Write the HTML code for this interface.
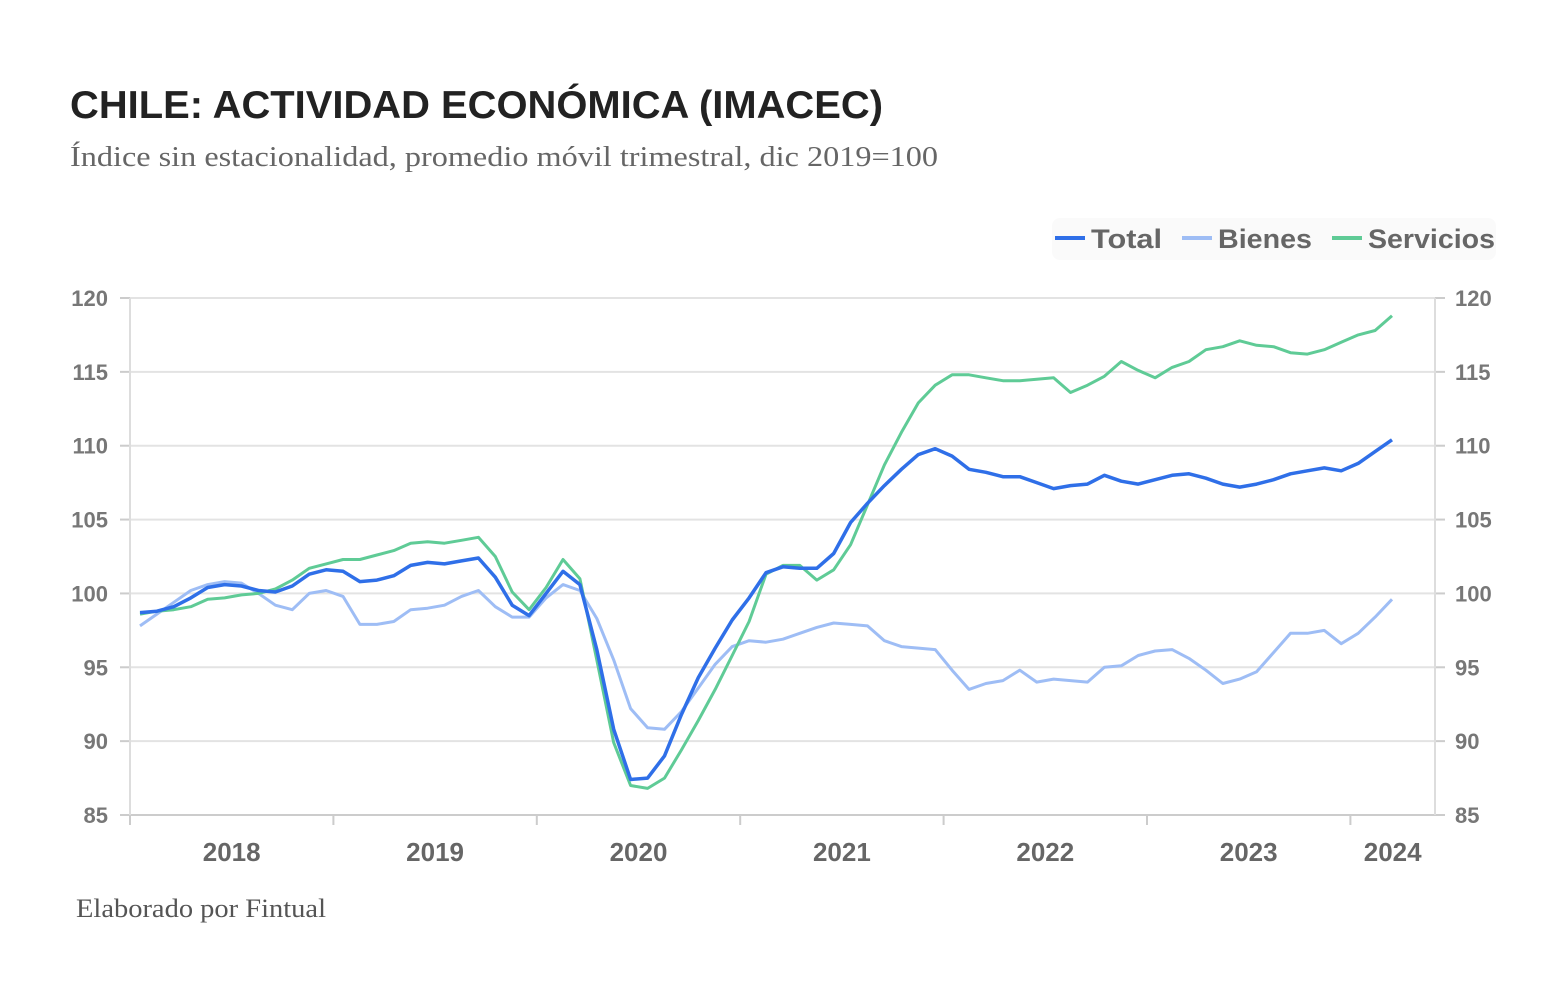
<!DOCTYPE html>
<html><head><meta charset="utf-8"><style>
body{margin:0;background:#fff;width:1568px;height:1002px;overflow:hidden;font-family:"Liberation Sans",sans-serif}
</style></head><body>
<svg width="1568" height="1002">
<text x="70" y="118" font-size="39" font-weight="bold" fill="#222" textLength="813" lengthAdjust="spacingAndGlyphs">CHILE: ACTIVIDAD ECONÓMICA (IMACEC)</text>
<text x="70" y="166" font-size="29" fill="#666" font-family="Liberation Serif, serif" textLength="868" lengthAdjust="spacingAndGlyphs">Índice sin estacionalidad, promedio móvil trimestral, dic 2019=100</text>
<text x="76" y="917" font-size="26" fill="#555" font-family="Liberation Serif, serif" textLength="250" lengthAdjust="spacingAndGlyphs">Elaborado por Fintual</text>
<rect x="1052" y="218" width="444" height="42" rx="8" fill="#fafafa"/>
<g id="grid"></g><g id="axes"></g><g id="series"></g>
<g font-size="27" font-weight="bold" fill="#666">
<g><line x1="1055" x2="1085" y1="238" y2="238" stroke="#2f6fe8" stroke-width="4"/><text x="1091" y="248" textLength="71" lengthAdjust="spacingAndGlyphs">Total</text></g>
<g><line x1="1182" x2="1212" y1="238" y2="238" stroke="#9ebdf5" stroke-width="4"/><text x="1218" y="248" textLength="94" lengthAdjust="spacingAndGlyphs">Bienes</text></g>
<g><line x1="1332" x2="1362" y1="238" y2="238" stroke="#5fcb96" stroke-width="4"/><text x="1368" y="248" textLength="127" lengthAdjust="spacingAndGlyphs">Servicios</text></g>
</g>
</svg>
<script>
const yTicks=[85,90,95,100,105,110,115,120];
const years=["2018","2019","2020","2021","2022","2023","2024"];
const total=[98.7,98.8,99.1,99.7,100.4,100.6,100.5,100.2,100.1,100.5,101.3,101.6,101.5,100.8,100.9,101.2,101.9,102.1,102.0,102.2,102.4,101.1,99.2,98.5,100.0,101.5,100.6,96.2,90.8,87.4,87.5,89.0,91.8,94.3,96.3,98.2,99.7,101.4,101.8,101.7,101.7,102.7,104.8,106.1,107.3,108.4,109.4,109.8,109.3,108.4,108.2,107.9,107.9,107.5,107.1,107.3,107.4,108.0,107.6,107.4,107.7,108.0,108.1,107.8,107.4,107.2,107.4,107.7,108.1,108.3,108.5,108.3,108.8,109.6,110.4];
const bienes=[97.8,98.6,99.4,100.2,100.6,100.8,100.7,100.0,99.2,98.9,100.0,100.2,99.8,97.9,97.9,98.1,98.9,99.0,99.2,99.8,100.2,99.1,98.4,98.4,99.7,100.6,100.2,98.3,95.5,92.2,90.9,90.8,92.0,93.6,95.2,96.4,96.8,96.7,96.9,97.3,97.7,98.0,97.9,97.8,96.8,96.4,96.3,96.2,94.8,93.5,93.9,94.1,94.8,94.0,94.2,94.1,94.0,95.0,95.1,95.8,96.1,96.2,95.6,94.8,93.9,94.2,94.7,96.0,97.3,97.3,97.5,96.6,97.3,98.4,99.6];
const servicios=[98.6,98.8,98.9,99.1,99.6,99.7,99.9,100.0,100.3,100.9,101.7,102.0,102.3,102.3,102.6,102.9,103.4,103.5,103.4,103.6,103.8,102.5,100.1,98.9,100.4,102.3,101.0,95.5,89.9,87.0,86.8,87.5,89.4,91.4,93.5,95.8,98.1,101.3,101.9,101.9,100.9,101.6,103.3,106.0,108.7,110.9,112.9,114.1,114.8,114.8,114.6,114.4,114.4,114.5,114.6,113.6,114.1,114.7,115.7,115.1,114.6,115.3,115.7,116.5,116.7,117.1,116.8,116.7,116.3,116.2,116.5,117.0,117.5,117.8,118.8];
const NS="http://www.w3.org/2000/svg";
const L=130,R=1435,T=298,B=815;
const yS=v=>B-(v-85)/35*(B-T);
const xS=i=>140+i*(1392-140)/74;
const yearX=k=>L+k*203.4;
function mk(tag,attrs,parent){const e=document.createElementNS(NS,tag);for(const k in attrs)e.setAttribute(k,attrs[k]);document.getElementById(parent).appendChild(e);return e;}
yTicks.forEach(v=>{
  const y=yS(v);
  const g=mk('line',{x1:L,x2:R,y1:y,y2:y,stroke:v===85?'#ccc':'#e3e3e3','stroke-width':2},'grid');
  
  
  mk('line',{x1:L-10,x2:L,y1:y,y2:y,stroke:'#ccc','stroke-width':2},'axes');
  mk('line',{x1:R,x2:R+10,y1:y,y2:y,stroke:'#ccc','stroke-width':2},'axes');
  const t1=mk('text',{x:L-22,y:y+8,'text-anchor':'end','font-size':22,'font-weight':'bold',fill:'#777'},'axes');
  t1.textContent=v;
  
  
  const t2=mk('text',{x:R+20,y:y+8,'font-size':22,'font-weight':'bold',fill:'#777'},'axes');
  t2.textContent=v;
  
  
});
mk('line',{x1:L,x2:L,y1:T,y2:B+10,stroke:'#ddd','stroke-width':2},'axes');
mk('line',{x1:R,x2:R,y1:T,y2:B,stroke:'#ddd','stroke-width':2},'axes');
years.forEach((yr,k)=>{
  const x=yearX(k);
  mk('line',{x1:x,x2:x,y1:B,y2:B+10,stroke:'#ccc','stroke-width':2},'axes');
  const cx=k<6?x+101.7:(x+R)/2;
  const t=mk('text',{x:cx,y:B+46,'text-anchor':'middle','font-size':26,'font-weight':'bold',fill:'#666'},'axes');
  t.textContent=yr;
  
  
});
function draw(arr,color,w,name){
  const d=arr.map((v,i)=>(i?'L':'M')+xS(i).toFixed(1)+','+yS(v).toFixed(1)).join('');
  const p=mk('path',{d:d,fill:'none',stroke:color,'stroke-width':w,'stroke-linejoin':'round'},'series');
  
  
}
draw(bienes,'#9ebdf5',3,'series-bienes');
draw(servicios,'#5fcb96',3,'series-servicios');
draw(total,'#2f6fe8',3.5,'series-total');
</script>
</body></html>
